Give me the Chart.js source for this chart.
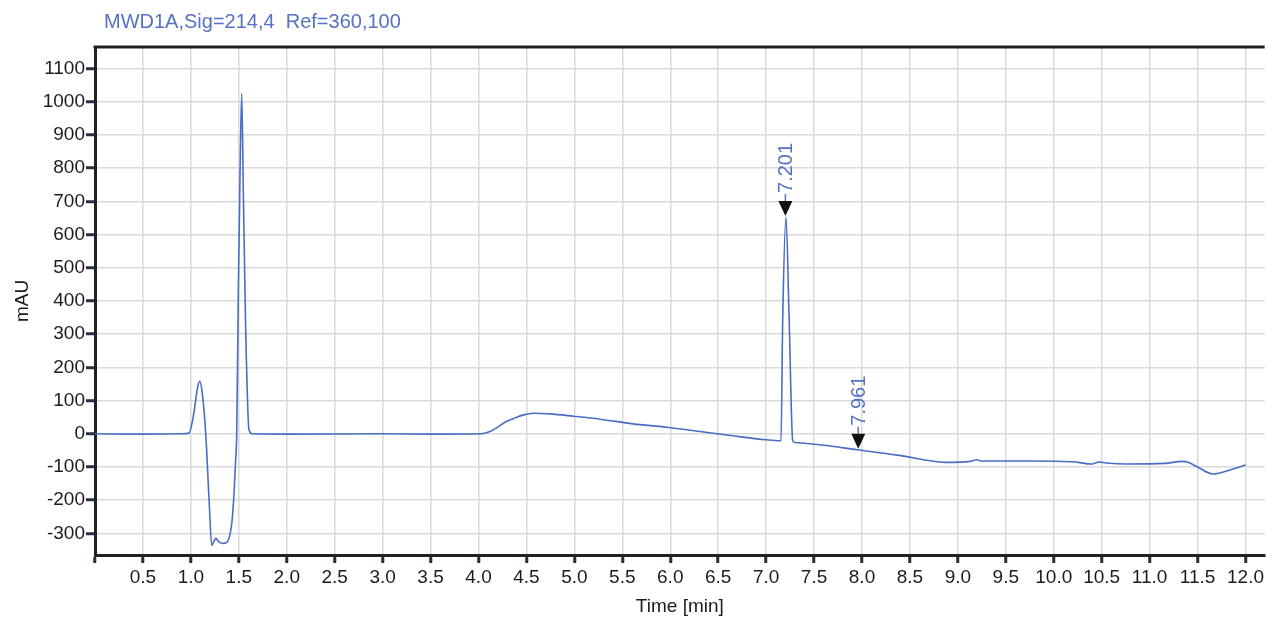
<!DOCTYPE html>
<html>
<head>
<meta charset="utf-8">
<script src="https://cdn.jsdelivr.net/npm/chart.js@4.4.1/dist/chart.umd.min.js"></script>
<style>
  html, body { margin: 0; padding: 0; background: #fff; }
  #wrap { position: relative; width: 1267px; height: 621px; }
  #title {
    position: absolute; left: 104px; top: 10px;
    font-family: "Liberation Sans", Arial, sans-serif; font-size: 20px;
    color: #5572c4; white-space: pre;
  }
</style>
</head>
<body>
<div id="wrap">
  <canvas id="chartMwd"></canvas>
  <div id="title">MWD1A,Sig=214,4  Ref=360,100</div>
</div>
<script>
// ===== DATOS =====
const times = [0, 0.5, 0.9, 0.98, 1.03, 1.07, 1.093, 1.12, 1.155, 1.19, 1.218, 1.24, 1.26, 1.294, 1.34, 1.38, 1.41, 1.43, 1.45, 1.467, 1.478,
  1.495, 1.512, 1.53, 1.547, 1.571, 1.606, 1.64, 2.0, 3.0, 3.5, 4.02, 4.12, 4.2, 4.29, 4.38, 4.47, 4.57, 4.745, 4.99, 5.27, 5.61, 5.96,
  6.31, 6.65, 7.0, 7.14, 7.155, 7.173, 7.207, 7.24, 7.277, 7.3, 7.555, 7.95, 8.39, 8.73, 8.87, 9.13, 9.2, 9.24, 9.77, 10.19, 10.4, 10.47,
  10.55, 10.75, 11.16, 11.34, 11.4, 11.5, 11.66, 11.86, 12.0];
const signal = [0, -1, 0, 2, 60, 140, 158, 120, 0, -200, -336, -325, -315, -326, -330, -326, -300, -261, -180, -79, 0,
  427, 770, 1025, 730, 325, 12, 0, -1, 0, -1, 0, 7, 20, 37, 48, 57, 62, 60, 53, 44, 30, 20,
  7, -6, -18, -21, -21, 345, 653, 345, -20, -26, -33, -48, -65, -82, -86, -83, -78, -82, -82, -84, -91, -85,
  -88, -91, -89, -83, -86, -100, -121, -107, -94];

// picos marcados
const peakTimes = [7.201, 7.961];
const peakLabels = ['7.201', '7.961'];
const peakTops = [653, -48];

const FONT = '"Liberation Sans", Arial, sans-serif';

// ===== PLUGIN: borde superior + marcas de picos =====
const extras = {
  id: 'extras',
  afterDatasetsDraw(chart) {
    const { ctx, chartArea, scales } = chart;
    ctx.save();
    ctx.strokeStyle = '#222';
    ctx.lineWidth = 3;
    ctx.beginPath();
    ctx.moveTo(chartArea.left - 1.5, chartArea.top);
    ctx.lineTo(chartArea.right, chartArea.top);
    ctx.stroke();

    peakTimes.forEach((t, i) => {
      const x = scales.x.getPixelForValue(t);
      const y = scales.y.getPixelForValue(peakTops[i]) - 1;
      ctx.save();
      // triangulo
      ctx.fillStyle = '#111';
      ctx.beginPath();
      ctx.moveTo(x - 7, y - 15);
      ctx.lineTo(x + 7, y - 15);
      ctx.lineTo(x, y);
      ctx.closePath();
      ctx.fill();
      ctx.strokeStyle = '#5572c4';
      ctx.lineWidth = 1.5;
      ctx.beginPath();
      ctx.moveTo(x, y - 15);
      ctx.lineTo(x, y - 22);
      ctx.stroke();
      // etiqueta vertical
      ctx.translate(x, y - 23);
      ctx.rotate(-Math.PI / 2);
      ctx.fillStyle = '#5572c4';
      ctx.font = '20px ' + FONT;
      ctx.textAlign = 'left';
      ctx.textBaseline = 'middle';
      ctx.fillText(peakLabels[i], 0, 1);
      ctx.restore();
    });
    ctx.restore();
  }
};

const ctx = document.getElementById('chartMwd').getContext('2d');
const chartMwd = new Chart(ctx, {
  type: 'line',
  data: {
    datasets: [{
      data: times.map((t, i) => ({ x: t, y: signal[i] })),
      borderColor: '#4a6cc4',
      borderWidth: 1.6,
      pointRadius: 0,
      fill: false,
      cubicInterpolationMode: 'monotone'
    }]
  },
  options: {
    responsive: true,
    maintainAspectRatio: false,
    animation: false,
    layout: { padding: { top: 47, right: 0, left: 0, bottom: 0 } },
    plugins: { legend: { display: false }, tooltip: { enabled: false } },
    scales: {
      x: {
        type: 'linear', min: 0, max: 12.2,
        afterFit: s => { s.height = 66; },
        border: { display: true, color: '#222', width: 3 },
        grid: { color: '#dadada', lineWidth: 1.5, tickColor: '#243044', tickWidth: 3, tickLength: 8 },
        ticks: {
          stepSize: 0.5, includeBounds: false, padding: 3, color: '#1c1c1c', maxRotation: 0, autoSkip: false,
          font: { family: FONT, size: 19 },
          callback: v => (v === 0 ? '' : v.toFixed(1))
        },
        title: { display: true, text: 'Time [min]', color: '#1c1c1c', font: { family: FONT, size: 19 }, padding: { top: 0, bottom: 3 } }
      },
      y: {
        min: -365, max: 1165,
        afterFit: s => { s.width = 95; },
        border: { display: true, color: '#222', width: 3 },
        grid: { color: '#dadada', lineWidth: 1.5, tickColor: '#243044', tickWidth: 3, tickLength: 9 },
        ticks: {
          stepSize: 100, includeBounds: false, padding: 1, color: '#1c1c1c',
          font: { family: FONT, size: 19 },
          callback: v => String(v)
        },
        title: { display: true, text: 'mAU', color: '#1c1c1c', font: { family: FONT, size: 19 }, padding: { top: 11, bottom: 0 } }
      }
    }
  },
  plugins: [extras]
});
</script>
</body>
</html>
